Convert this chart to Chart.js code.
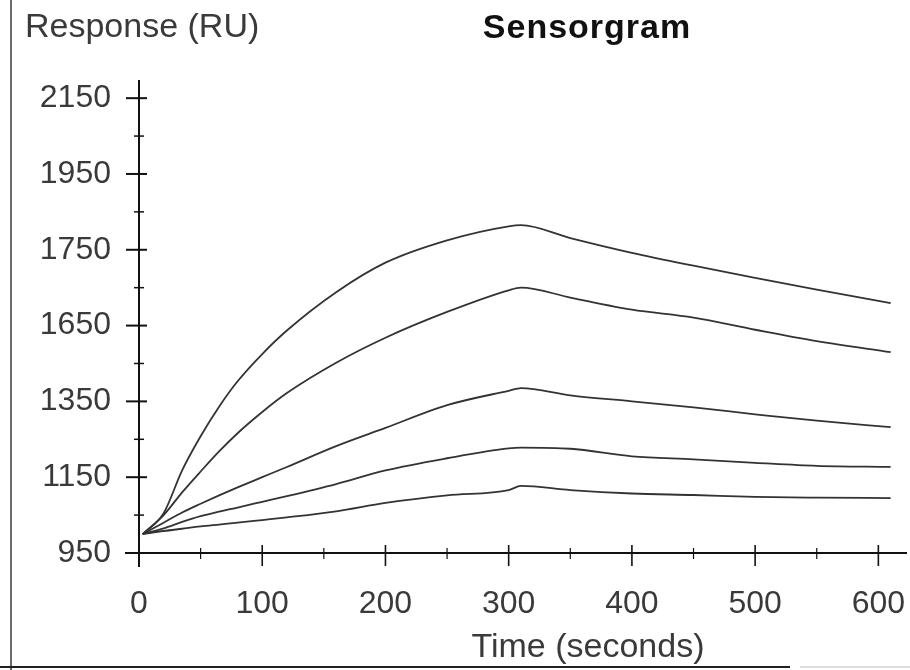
<!DOCTYPE html>
<html>
<head>
<meta charset="utf-8">
<script src="https://cdn.jsdelivr.net/npm/chart.js@4.4.1/dist/chart.umd.min.js"></script>
<style>
  html, body { margin: 0; padding: 0; background: #ffffff; }
  #wrap { width: 910px; height: 670px; position: relative; }
</style>
</head>
<body>
<div id="wrap"><canvas id="c" width="910" height="670"></canvas></div>
<script>
// ---- data ----
const timeSeconds = [3, 20, 35, 50, 65, 80, 100, 120, 160, 200, 250, 300, 310, 350, 400, 450, 500, 550, 610];
const curve1 = [1000, 1055, 1168, 1258, 1336, 1403, 1475, 1537, 1638, 1716, 1775, 1812, 1815, 1781, 1742, 1708, 1676, 1645, 1609];
const curve2 = [1000, 1050, 1110, 1165, 1218, 1266, 1322, 1372, 1452, 1518, 1586, 1643, 1650, 1624, 1592, 1571, 1539, 1509, 1480];
const curve3 = [1000, 1030, 1057, 1080, 1102, 1123, 1150, 1177, 1232, 1280, 1340, 1378, 1385, 1366, 1350, 1334, 1316, 1299, 1282];
const curve4 = [1000, 1015, 1032, 1047, 1059, 1070, 1085, 1100, 1132, 1168, 1200, 1226, 1228, 1225, 1205, 1197, 1188, 1180, 1177];
const curve5 = [1000, 1008, 1014, 1020, 1025, 1030, 1037, 1044, 1060, 1082, 1102, 1116, 1127, 1116, 1107, 1103, 1098, 1096, 1095];

const yTickValues = [950, 1150, 1350, 1550, 1750, 1950, 2150];
const yTickLabels = ['950', '1150', '1350', '1650', '1750', '1950', '2150'];
const yMinorValues = [1050, 1250, 1450, 1650, 1850, 2050];
const xTickValues = [0, 100, 200, 300, 400, 500, 600];
const xTickLabels = ['0', '100', '200', '300', '400', '500', '600'];
const xMinorValues = [50, 150, 250, 350, 450, 550];

const chartTitle = 'Sensorgram';
const yTitle = 'Response (RU)';
const xTitle = 'Time (seconds)';

const curves = [curve1, curve2, curve3, curve4, curve5];
const datasets = curves.map(vals => ({
  data: timeSeconds.map((t, i) => ({ x: t, y: vals[i] })),
  borderColor: '#333333',
  borderWidth: 1.8,
  pointRadius: 0,
  fill: false,
  cubicInterpolationMode: 'monotone'
}));

const FONT = '"Liberation Sans", Arial, sans-serif';
const TEXT = '#3a3a3a';

const decor = {
  id: 'decor',
  afterDraw(chart) {
    const ctx = chart.ctx;
    const xs = chart.scales.x, ys = chart.scales.y;
    const x0 = xs.getPixelForValue(0);
    const y0 = ys.getPixelForValue(950);
    ctx.save();
    // page frame lines
    ctx.strokeStyle = '#6a6a6a';
    ctx.lineWidth = 2;
    ctx.beginPath(); ctx.moveTo(11, 0); ctx.lineTo(11, 670); ctx.stroke();
    ctx.strokeStyle = '#222';
    ctx.beginPath(); ctx.moveTo(0, 667); ctx.lineTo(790, 667); ctx.stroke();
    ctx.strokeStyle = '#bbb';
    ctx.lineWidth = 1;
    ctx.beginPath(); ctx.moveTo(800, 667); ctx.lineTo(910, 667); ctx.stroke();

    // axes
    ctx.strokeStyle = '#111';
    ctx.lineWidth = 2;
    ctx.beginPath(); ctx.moveTo(x0, chart.chartArea.top - 3); ctx.lineTo(x0, y0 + 14); ctx.stroke();
    ctx.beginPath(); ctx.moveTo(x0 - 14, y0); ctx.lineTo(chart.chartArea.right + 4, y0); ctx.stroke();

    // y tick marks
    ctx.lineWidth = 2;
    yTickValues.forEach(v => {
      const p = ys.getPixelForValue(v);
      ctx.beginPath(); ctx.moveTo(x0 - 13, p); ctx.lineTo(x0 + 8, p); ctx.stroke();
    });
    ctx.lineWidth = 1.5;
    yMinorValues.forEach(v => {
      const p = ys.getPixelForValue(v);
      ctx.beginPath(); ctx.moveTo(x0 - 5, p); ctx.lineTo(x0 + 5, p); ctx.stroke();
    });
    // x tick marks
    ctx.lineWidth = 1.6;
    xTickValues.forEach(v => {
      const p = xs.getPixelForValue(v);
      ctx.beginPath(); ctx.moveTo(p, y0 - 8); ctx.lineTo(p, y0 + 13); ctx.stroke();
    });
    ctx.lineWidth = 1.2;
    xMinorValues.forEach(v => {
      const p = xs.getPixelForValue(v);
      ctx.beginPath(); ctx.moveTo(p, y0 - 5); ctx.lineTo(p, y0 + 6); ctx.stroke();
    });

    // titles
    ctx.fillStyle = TEXT;
    ctx.textBaseline = 'middle';
    ctx.textAlign = 'left';
    ctx.font = '34px ' + FONT;
    ctx.fillText(yTitle, 25, 28);
    ctx.textAlign = 'center';
    ctx.fillText(xTitle, 588, 648);
    ctx.fillStyle = '#111';
    ctx.font = 'bold 34px ' + FONT;
    try { ctx.letterSpacing = '1px'; } catch (e) {}
    ctx.fillText(chartTitle, 587, 29);
    ctx.restore();
  }
};

new Chart(document.getElementById('c'), {
  type: 'line',
  data: { datasets },
  plugins: [decor],
  options: {
    responsive: false,
    animation: false,
    layout: { padding: { left: 0, top: 83, right: 7, bottom: 0 } },
    plugins: { legend: { display: false }, tooltip: { enabled: false }, title: { display: false } },
    scales: {
      x: {
        type: 'linear',
        min: 0, max: 620,
        grid: { display: false },
        border: { display: false },
        afterFit(s) { s.height = 117; s.paddingLeft = 0; s.paddingRight = 0; },
        afterBuildTicks(s) { s.ticks = xTickValues.map(v => ({ value: v })); },
        ticks: {
          padding: 24,
          color: TEXT,
          font: { family: FONT, size: 32 },
          maxRotation: 0,
          callback: (v, i) => xTickLabels[i]
        }
      },
      y: {
        type: 'linear',
        min: 950, max: 2190,
        grid: { display: false },
        border: { display: false },
        afterFit(s) { s.width = 139; s.paddingTop = 0; s.paddingBottom = 0; },
        afterBuildTicks(s) { s.ticks = yTickValues.map(v => ({ value: v })); },
        ticks: {
          padding: 20,
          color: TEXT,
          font: { family: FONT, size: 32 },
          callback: (v, i) => yTickLabels[i]
        }
      }
    }
  }
});
</script>
</body>
</html>
